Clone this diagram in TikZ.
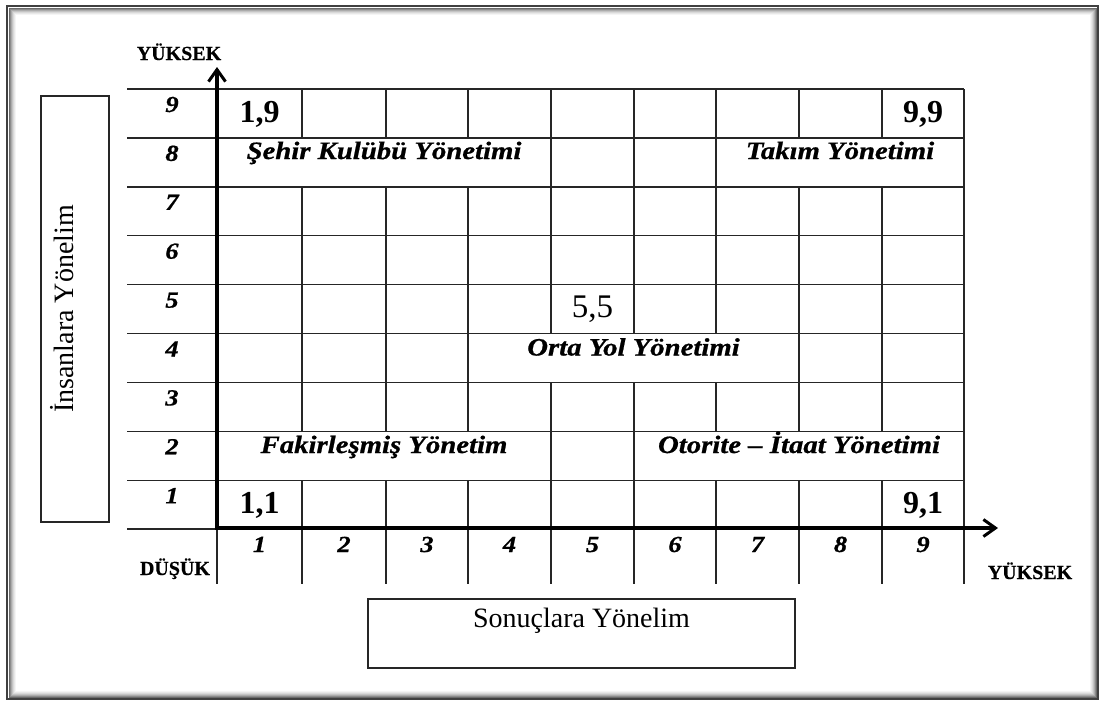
\documentclass[tikz,border=0pt]{standalone}
\usepackage{fontspec}
\usepackage{graphicx}
\setmainfont{Liberation Serif}
\newfontfamily\heavyfont[BoldItalicFeatures={FakeBold=0.7},BoldFeatures={FakeBold=0.5}]{Liberation Serif}
\newcommand\hwide[1]{\scalebox{1.15}[1]{#1}}
\usetikzlibrary{arrows.meta}
\begin{document}
\begin{tikzpicture}[x=1pt,y=-1pt,
  grid/.style={line width=1.4pt, draw=black!85},
  axisline/.style={line width=3.4pt, -{Straight Barb[length=12pt,width=17pt,line width=3pt]}},
  lbl/.style={anchor=base, inner sep=0pt, font=\heavyfont\fontsize{25}{28}\selectfont\bfseries\itshape},
  num/.style={anchor=base, inner sep=0pt, font=\heavyfont\fontsize{23}{26}\selectfont\bfseries\itshape},
  corner/.style={anchor=base, inner sep=0pt, font=\fontsize{32}{36}\selectfont\bfseries},
  mid/.style={anchor=base, inner sep=0pt, font=\fontsize{33}{36}\selectfont},
  level/.style={anchor=base, inner sep=0pt, font=\heavyfont\fontsize{20}{22}\selectfont\bfseries},
  titlebox/.style={draw=black!85, line width=1.4pt, inner sep=0pt},
  title/.style={anchor=base, inner sep=0pt, font=\fontsize{28}{32}\selectfont},
  ]
\useasboundingbox (0,0) rectangle (1105,702);
\fill[white] (0,0) rectangle (1105,702);
% frame
\draw[line width=2.4pt, draw=black!75] (7,6) rectangle (1098,699);
\foreach \i/\c in {2/58,3/45,4/33,5/23,6/15,7/9,8/4} {
  \draw[black!\c, line width=1pt] (7+\i,6+\i) rectangle (1098-\i,699-\i);
}
% horizontal grid lines
\foreach \k in {0,...,9} {
  \draw[grid] (127,{89+48.9*\k}) -- (964,{89+48.9*\k});
}
% vertical grid lines
\foreach \x in {302,386,468,551,634,716,799,882} {
  \draw[grid] (\x,89) -- (\x,137.9);
  \draw[grid] (\x,186.8) -- (\x,333.5);
  \draw[grid] (\x,382.4) -- (\x,431.3);
  \draw[grid] (\x,480.2) -- (\x,584);
}
\foreach \x in {551,634,716} { \draw[grid] (\x,137.9) -- (\x,186.8); }
\foreach \x in {302,386,468,799,882} { \draw[grid] (\x,333.5) -- (\x,382.4); }
\foreach \x in {551,634} { \draw[grid] (\x,431.3) -- (\x,480.2); }
\draw[grid] (217,89) -- (217,584);
\draw[grid] (964,89) -- (964,584);
% axes
\coordinate (O) at (217,529.5);
\coordinate (Oh) at (215.5,528);
\coordinate (ytip) at (217,67);
\coordinate (xtip) at (998,528);
\draw[axisline] (O) -- (ytip);
\draw[axisline] (Oh) -- (xtip);
% row numbers
\foreach \k in {1,...,9} {
  \node[num] (r\k) at (172,{89+48.9*(9-\k)+23}) {\hwide{\k}};
}
% column numbers
\foreach \k/\x in {1/259.5,2/344,3/427,4/509.5,5/592.5,6/675,7/757.5,8/840.5,9/923} {
  \node[num] (c\k) at (\x,552) {\hwide{\k}};
}
% corner values
\node[corner] (n19) at (259.5,122) {1,9};
\node[corner] (n99) at (923,122) {9,9};
\node[corner] (n11) at (259.5,513) {1,1};
\node[corner] (n91) at (923,513) {9,1};
\node[mid] (n55) at (592.5,317) {5,5};
% styles
\node[lbl] (sehir) at (384,159) {\hwide{Şehir Kulübü Yönetimi}};
\node[lbl] (takim) at (840,159) {\hwide{Takım Yönetimi}};
\node[lbl] (orta) at (633.5,355.5) {\hwide{Orta Yol Yönetimi}};
\node[lbl] (fakir) at (384,453) {\hwide{Fakirleşmiş Yönetim}};
\node[lbl] (otorite) at (799,453) {\hwide{Otorite – İtaat Yönetimi}};
% levels
\node[level] (yuksekY) at (179,60) {YÜKSEK};
\node[level] (dusuk) at (175,575) {DÜŞÜK};
\node[level] (yuksekX) at (1030,579) {YÜKSEK};
% title boxes
\node[titlebox, minimum width=68pt, minimum height=426pt] (lbox) at (75,309) {};
\node[title, rotate=90] (ltitle) at (73,309) {İnsanlara Yönelim};
\node[titlebox, minimum width=427pt, minimum height=69pt] (bbox) at (581.5,633.5) {};
\node[title] (btitle) at (581.5,627) {Sonuçlara Yönelim};
\end{tikzpicture}
\end{document}
